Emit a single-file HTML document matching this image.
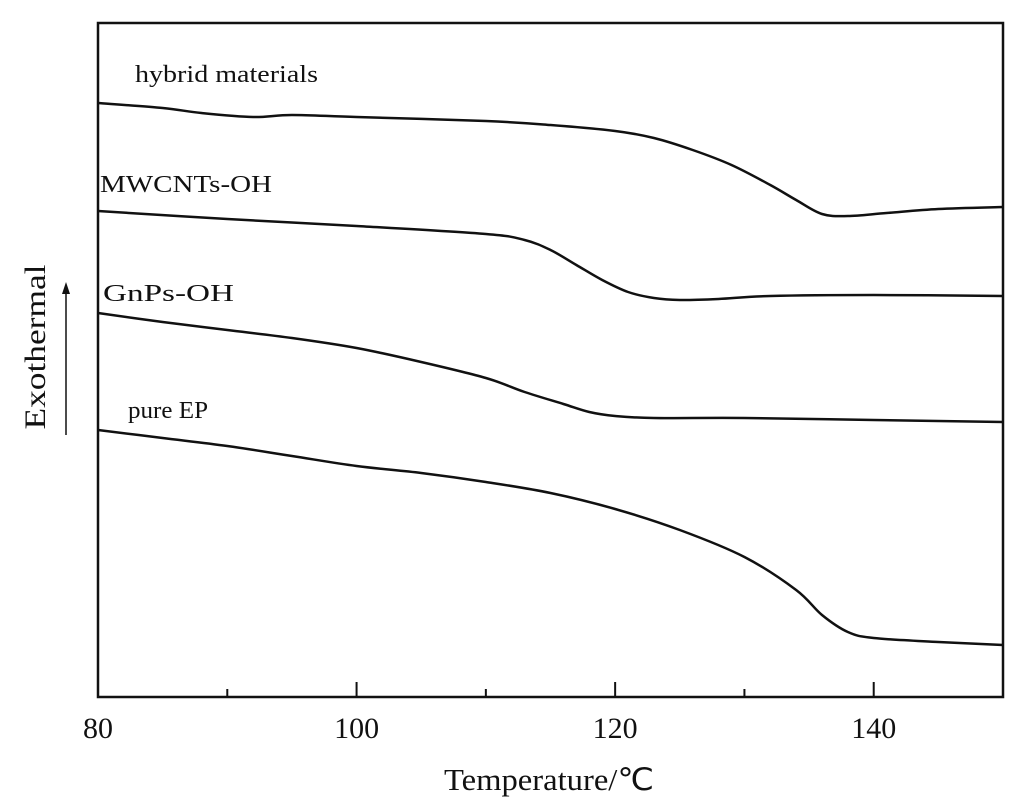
<!DOCTYPE html>
<html><head><meta charset="utf-8"><style>
html,body{margin:0;padding:0;background:#fff;}
svg{display:block;font-family:"Liberation Serif",serif;}
</style></head><body>
<svg id="chart" width="1024" height="805">
<rect x="98" y="23" width="905" height="674" fill="none" stroke="#111" stroke-width="2.5"/>
<g id="ticks"></g>
<g id="series"></g>
<text x="549" y="790" font-size="31" text-anchor="middle" textLength="210" lengthAdjust="spacingAndGlyphs" fill="#111">Temperature/℃</text>
<text transform="translate(45,347) rotate(-90)" font-size="30" text-anchor="middle" textLength="165" lengthAdjust="spacingAndGlyphs" fill="#111">Exothermal</text>
<line x1="66" y1="435" x2="66" y2="292" stroke="#111" stroke-width="1.5"/>
<polygon points="66,282 62,294 70,294" fill="#111"/>
</svg>
<script>
const categories=["hybrid materials","MWCNTs-OH","GnPs-OH","pure EP"];
const xTicks=[80,100,120,140];
const xMinor=[90,110,130];
const hybridT=[80,85,88,92,95,100,110,115,120,123,126,129,132,134,136,138,141,145,150];
const hybridV=[594,589,584,580,582,580,576,572,566,559,547,532,512,497,483,481,484,488,490];
const mwT=[80,90,100,110,113,115,117,119,121,123,125,128,132,140,150];
const mwV=[486,478,471,463,457,447,432,417,405,399,397,398,401,402,401];
const gnT=[80,85,90,95,100,105,110,113,116,118,120,123,130,140,150];
const gnV=[384,375,367,359,349,335,319,305,293,285,281,279,279,277,275];
const epT=[80,85,90,95,100,105,110,115,120,125,130,134,136,138,140,145,150];
const epV=[267,259,251,241,231,224,215,204,188,167,140,107,82,65,59,55,52];
const labelPos=[[135,82],[100,192],[103,301],[128,418]];
const labelLen=[183,172,131,80];
const seriesT=[hybridT,mwT,gnT,epT];
const seriesV=[hybridV,mwV,gnV,epV];
const NS="http://www.w3.org/2000/svg";
function xs(t){return 98+(t-80)*(1003-98)/70;}
function ys(v){return 697-v;}
const tg=document.getElementById('ticks');
xTicks.forEach(t=>{
 const l=document.createElementNS(NS,'line');
 
 
 l.setAttribute('x1',xs(t));l.setAttribute('x2',xs(t));l.setAttribute('y1',697);l.setAttribute('y2',682);
 l.setAttribute('stroke','#111');l.setAttribute('stroke-width','2');tg.appendChild(l);
 const tx=document.createElementNS(NS,'text');
 
 
 tx.setAttribute('x',xs(t));tx.setAttribute('y',738);tx.setAttribute('font-size','30');
 tx.setAttribute('text-anchor','middle');tx.setAttribute('fill','#111');tx.textContent=t;tg.appendChild(tx);
});
xMinor.forEach(t=>{
 const l=document.createElementNS(NS,'line');
 
 
 l.setAttribute('x1',xs(t));l.setAttribute('x2',xs(t));l.setAttribute('y1',697);l.setAttribute('y2',689);
 l.setAttribute('stroke','#111');l.setAttribute('stroke-width','2');tg.appendChild(l);
});
const sg=document.getElementById('series');
categories.forEach((c,i)=>{
 const T=seriesT[i],V=seriesV[i];
 const pts=T.map((t,j)=>[xs(t),ys(V[j])]);
 let d='M'+pts[0][0]+','+pts[0][1];
 for(let j=0;j<pts.length-1;j++){
  const p0=pts[j-1]||pts[j],p1=pts[j],p2=pts[j+1],p3=pts[j+2]||p2;
  const c1x=p1[0]+(p2[0]-p0[0])/6,c1y=p1[1]+(p2[1]-p0[1])/6;
  const c2x=p2[0]-(p3[0]-p1[0])/6,c2y=p2[1]-(p3[1]-p1[1])/6;
  d+=' C'+c1x+','+c1y+' '+c2x+','+c2y+' '+p2[0]+','+p2[1];
 }
 const p=document.createElementNS(NS,'path');
 
 
 p.setAttribute('d',d);p.setAttribute('fill','none');p.setAttribute('stroke','#111');p.setAttribute('stroke-width','2.5');
 sg.appendChild(p);
 const tx=document.createElementNS(NS,'text');
 
 
 tx.setAttribute('x',labelPos[i][0]);tx.setAttribute('y',labelPos[i][1]);tx.setAttribute('font-size','24');tx.setAttribute('fill','#111');
 tx.setAttribute('textLength',labelLen[i]);tx.setAttribute('lengthAdjust','spacingAndGlyphs');
 tx.textContent=c;sg.appendChild(tx);
});
</script>
</body></html>
